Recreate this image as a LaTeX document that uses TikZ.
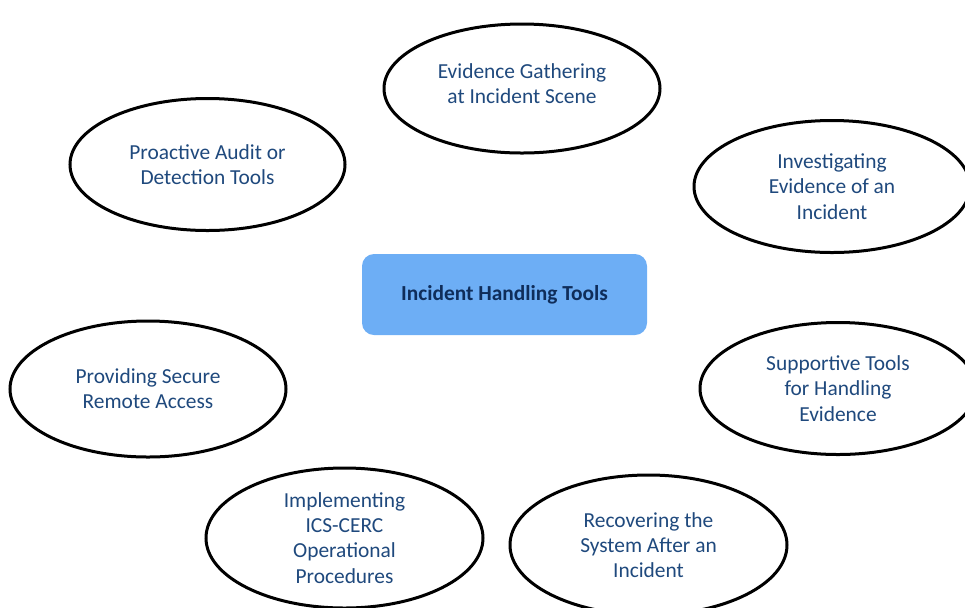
\documentclass[tikz,border=0pt]{standalone}
\usepackage{fontspec}
\setmainfont{Carlito}
\usetikzlibrary{shapes.geometric}
\definecolor{tooltext}{HTML}{1F497D}
\definecolor{hubfill}{HTML}{6DAEF5}
\definecolor{hubtext}{HTML}{0F2D5A}
\tikzset{
  tool/.style={ellipse,draw=black,line width=1.5pt,fill=white,inner sep=0pt,
    minimum width=138pt,minimum height=66pt,align=center,text=tooltext,
    font=\fontsize{10.7}{12.6}\selectfont},
  hub/.style={rectangle,rounded corners=6pt,fill=hubfill,inner sep=0pt,
    minimum width=142.5pt,minimum height=40.5pt,text=hubtext,
    font=\fontsize{10.7}{12.6}\selectfont\bfseries}
}
\begin{document}
\begin{tikzpicture}[x=0.5pt,y=-0.5pt]
\useasboundingbox (0,0) rectangle (965,607);
\clip (0,0) rectangle (965,607);
\node[hub](hub) at (504.5,294.5){Incident Handling Tools};
%
\node[tool,minimum height=64.5pt,text depth=5pt](gather) at (522,88.5){Evidence Gathering\\at Incident Scene};
\node[tool,minimum width=137.5pt](audit) at (207.5,164.5){Proactive Audit or\\Detection Tools};
\node[tool](invest) at (832,186.5){Investigating\\Evidence of an\\Incident};
\node[tool](support) at (838,388.5){Supportive Tools\\for Handling\\Evidence};
\node[tool,minimum height=68pt](remote) at (148,389){Providing Secure\\Remote Access};
\node[tool,minimum width=138.5pt,minimum height=70pt](implement) at (344.5,538){Implementing\\ICS-CERC\\Operational\\Procedures};
\node[tool,minimum width=138.5pt,minimum height=70pt](recover) at (648.5,545){Recovering the\\System After an\\Incident};
\end{tikzpicture}
\end{document}
